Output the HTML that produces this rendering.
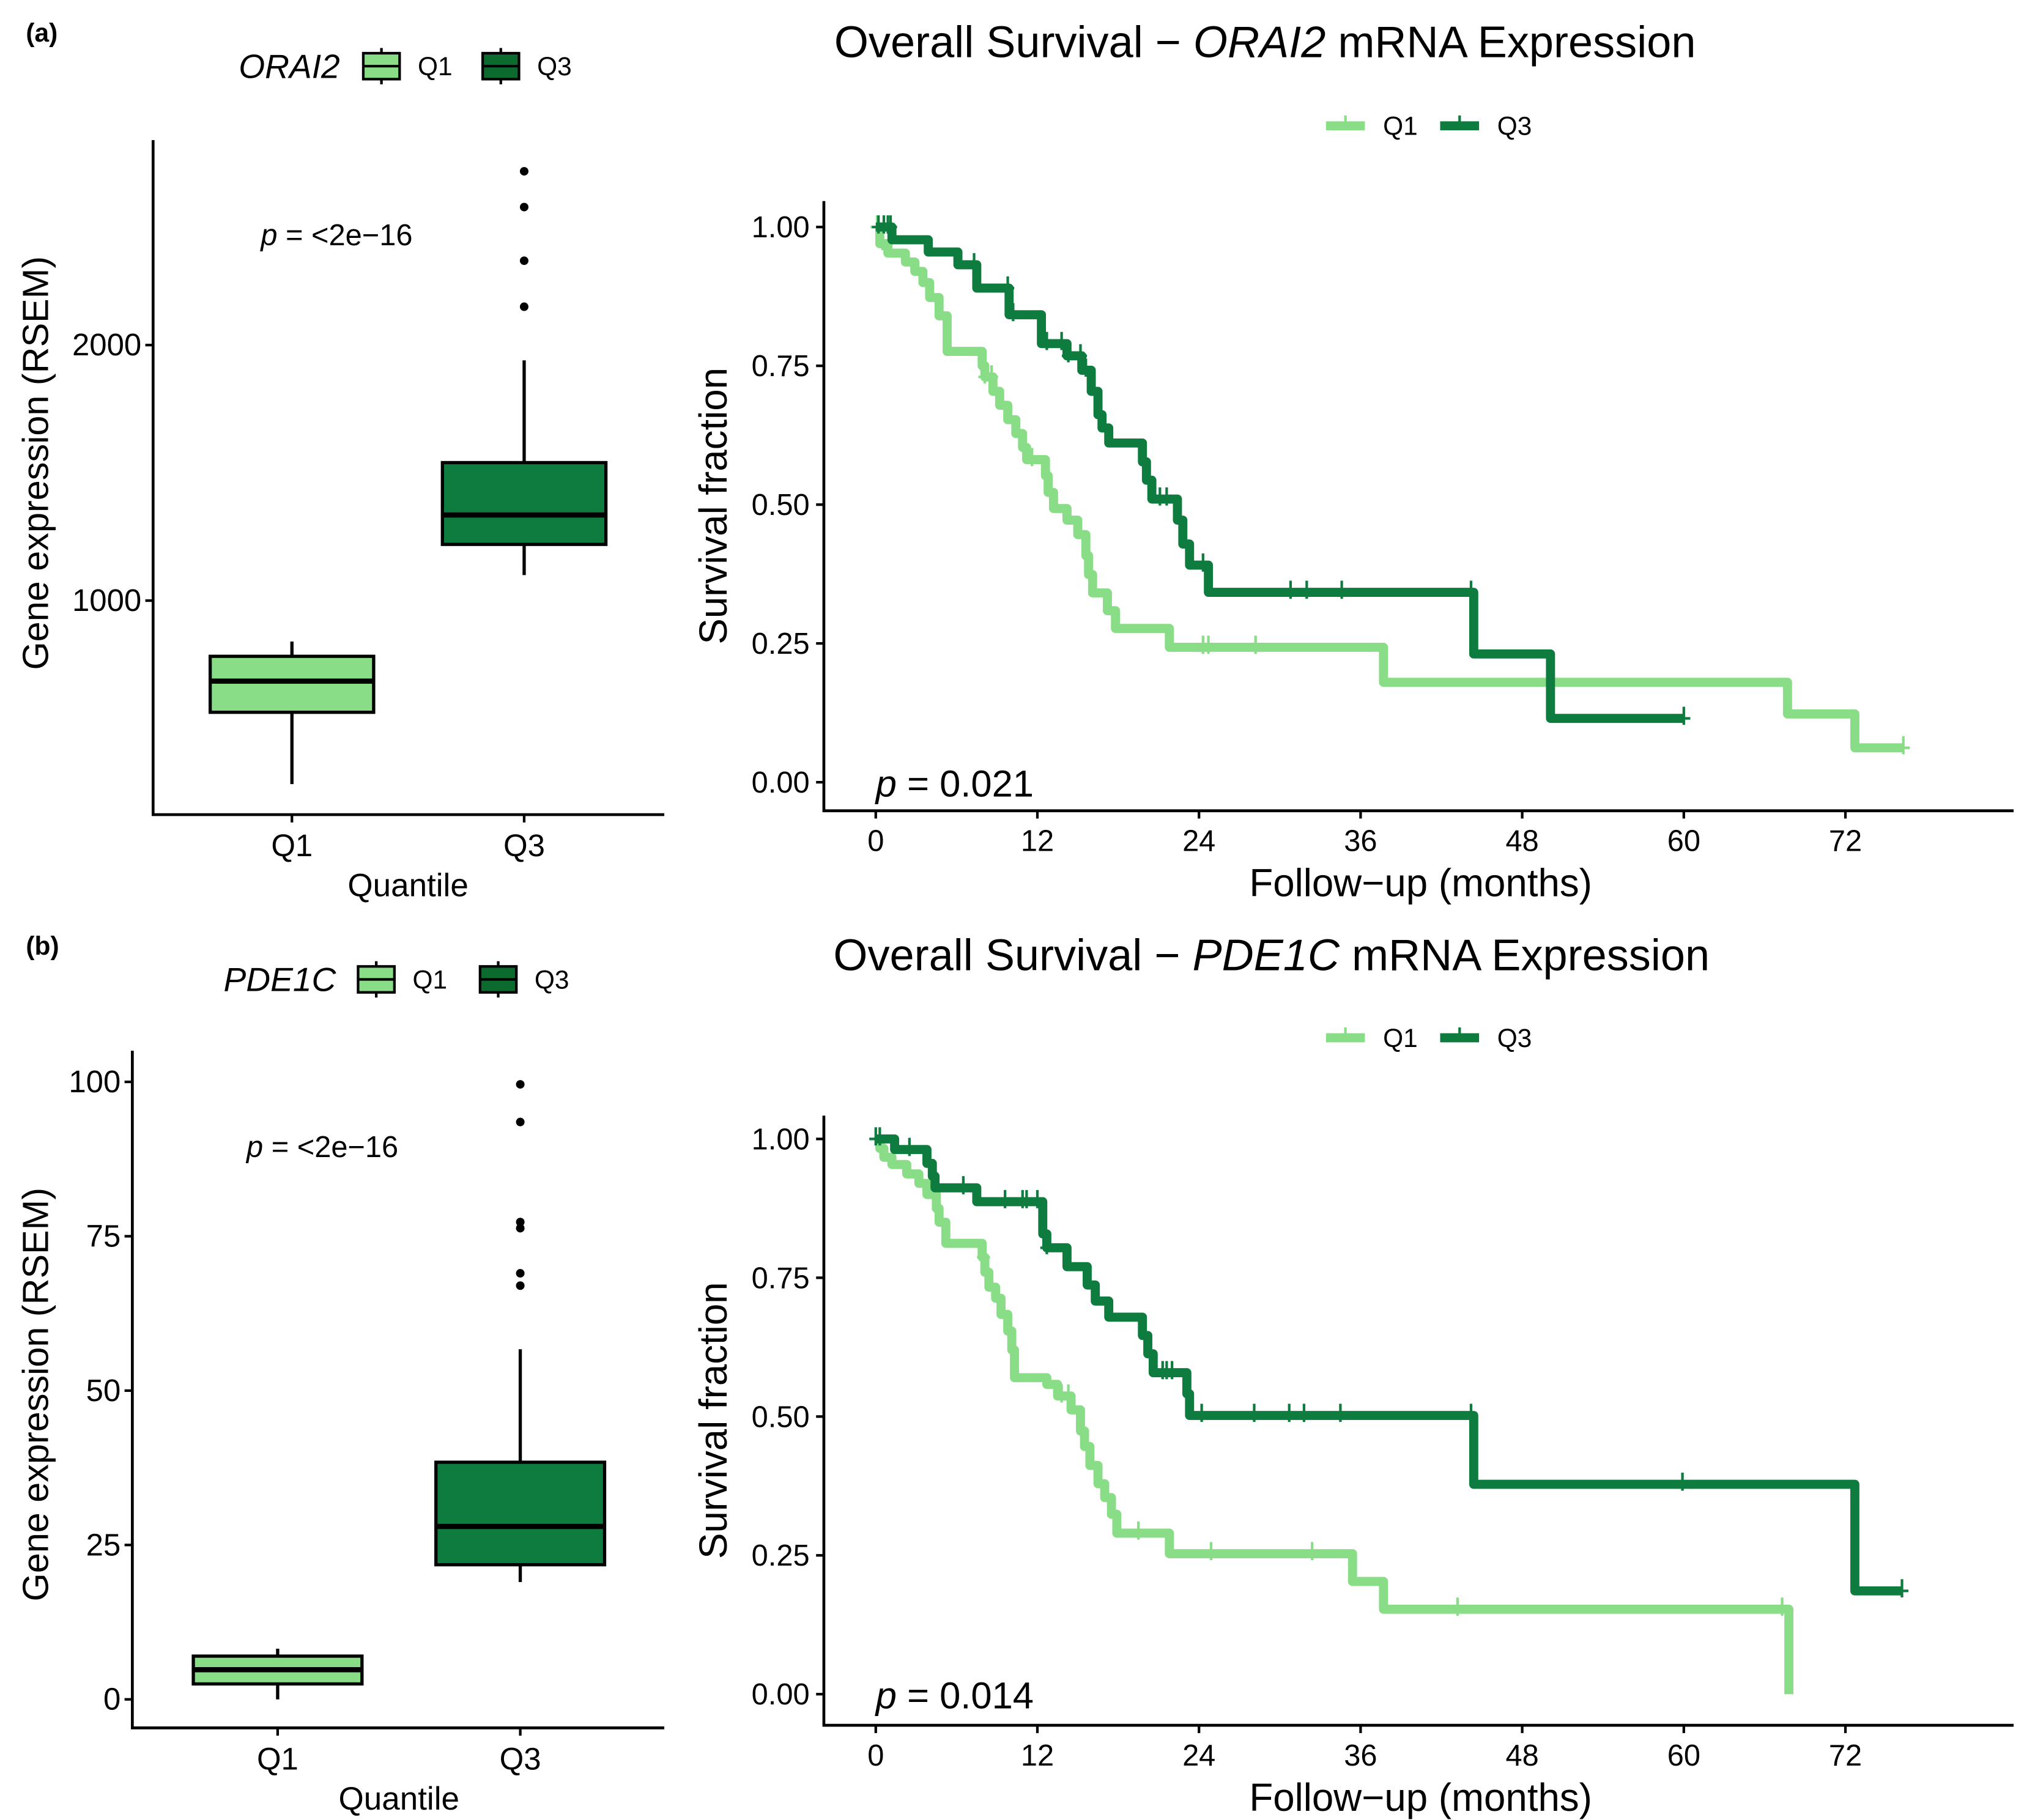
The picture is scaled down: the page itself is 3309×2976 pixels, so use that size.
<!DOCTYPE html>
<html><head><meta charset="utf-8">
<style>
html,body{margin:0;padding:0;background:#fff;}
svg{display:block;font-family:"Liberation Sans",Arial,sans-serif;}
</style></head>
<body>
<svg id="fig" width="3309" height="2976" viewBox="0 0 1560 1403" xmlns="http://www.w3.org/2000/svg">
<rect width="1560" height="1403" fill="#fff"/>
<text x="20" y="32" font-size="20" font-weight="bold">(a)</text>
<text x="20" y="736" font-size="20" font-weight="bold">(b)</text>
<text x="975" y="44" font-size="34" text-anchor="middle">Overall Survival − <tspan font-style="italic">ORAI2</tspan> mRNA Expression</text>
<text x="980" y="748" font-size="34" text-anchor="middle">Overall Survival − <tspan font-style="italic">PDE1C</tspan> mRNA Expression</text>
<g id="layer"></g>
</svg>
<script>
// ---------- data ----------
const boxCats = ["Q1","Q3"];
const boxA_stats = [[282,563,685,782,840],[1100,1220,1335,1540,1940]];
const boxA_out = [[],[2150,2330,2540,2680]];
const boxA_ticks = [1000,2000];
const boxB_stats = [[0,2.5,4.8,7,8.2],[19,21.8,28,38.4,56.7]];
const boxB_out = [[],[67,69,76.3,77.3,93.5,99.6]];
const boxB_ticks = [0,25,50,75,100];

const kmTicksX = [0,12,24,36,48,60,72];
const kmTicksY = [0,0.25,0.5,0.75,1];
const kmTickLabelsY = ["0.00","0.25","0.50","0.75","1.00"];

const aQ1_t = [0.3,0.9,2.2,2.9,3.5,4.0,4.7,5.3,7.9,8.1,8.7,9.2,9.8,10.4,10.9,11.2,12.6,12.8,13.2,14.2,15.0,15.6,15.8,16.1,17.2,17.8,21.8,37.7,67.7,72.7];
const aQ1_s = [0.97,0.953,0.937,0.92,0.9,0.873,0.84,0.776,0.75,0.73,0.704,0.679,0.653,0.628,0.603,0.581,0.552,0.522,0.493,0.472,0.446,0.408,0.374,0.341,0.309,0.277,0.243,0.18,0.123,0.062];
const aQ1_end = 76.3;
const aQ1_cens = [0.1,0.5,8.1,8.6,11.6,24.3,24.7,28.2,76.3];
const aQ3_t = [1.2,3.9,6.1,7.5,9.9,12.3,14.2,15.3,16.0,16.5,16.8,17.3,19.8,20.1,20.5,22.4,22.8,23.3,24.7,44.4,50.1];
const aQ3_s = [0.977,0.955,0.932,0.89,0.842,0.79,0.768,0.742,0.704,0.662,0.638,0.611,0.577,0.544,0.51,0.472,0.429,0.391,0.342,0.231,0.115];
const aQ3_end = 60;
const aQ3_cens = [0.2,0.6,0.9,1.1,7.3,9.8,10.2,12.7,13.8,14.3,15.2,15.6,21.1,21.6,24.3,30.8,32,34.6,44.2,60];

const bQ1_t = [0.3,0.6,1.2,2.3,3.2,3.8,4.5,4.7,5.2,7.9,8.1,8.4,8.9,9.3,9.8,10.1,10.3,12.7,13.5,14.5,15.2,15.5,15.9,16.5,17.0,17.5,17.9,21.8,35.4,37.7,67.8];
const bQ1_s = [0.983,0.967,0.954,0.937,0.92,0.9,0.875,0.85,0.812,0.787,0.76,0.733,0.713,0.684,0.654,0.62,0.57,0.558,0.537,0.512,0.474,0.446,0.412,0.379,0.354,0.324,0.29,0.253,0.203,0.153,0];
const bQ1_end = 67.8;
const bQ1_cens = [8.0,13.8,14.3,19.5,24.9,32.4,43.2,67.3];
const bQ3_t = [1.4,3.8,4.2,4.4,7.5,12.4,12.7,14.2,15.7,16.3,17.3,19.8,20.2,20.6,23.1,23.3,44.4,72.7];
const bQ3_s = [0.981,0.956,0.933,0.912,0.887,0.829,0.804,0.77,0.737,0.708,0.679,0.646,0.613,0.579,0.541,0.502,0.378,0.186];
const bQ3_end = 76.2;
const bQ3_cens = [0,0.3,2.5,6.5,9.6,10.9,11.2,12.0,12.7,21.3,21.6,22.0,24.2,28.1,30.7,31.8,34.5,44.2,59.9,76.2];

const LIGHT = "#89dd86", DARK = "#0e7c3f";
const NS = "http://www.w3.org/2000/svg";
const layer = document.getElementById("layer");
function mk(tag, attrs, parent, text){
  const e = document.createElementNS(NS, tag);
  for (const k in attrs) e.setAttribute(k, attrs[k]);
  if (text !== undefined) e.textContent = text;
  (parent || layer).appendChild(e);
  return e;
}

// ---------- boxplot ----------
function boxplot(cfg){
  const g = mk("g", {});
  
  
  const y = v => cfg.yPix0 + (v - cfg.yV0) * (cfg.yPix1 - cfg.yPix0) / (cfg.yV1 - cfg.yV0);
  const ax = mk("path", {d:`M${cfg.axX},${cfg.top}V${cfg.bottom}H${cfg.right}`, stroke:"#000", "stroke-width":2.2, fill:"none"}, g);
  
  
  cfg.ticks.forEach(t => {
    mk("line", {x1:cfg.axX-6, x2:cfg.axX, y1:y(t), y2:y(t), stroke:"#000", "stroke-width":2}, g);
    const tl = mk("text", {x:cfg.axX-9, y:y(t)+8, "font-size":24, "text-anchor":"end"}, g, String(t));
    
    
  });
  boxCats.forEach((c, i) => {
    const cx = cfg.xs[i], s = cfg.stats[i], hw = cfg.hw;
    mk("line", {x1:cx, x2:cx, y1:cfg.bottom, y2:cfg.bottom+6, stroke:"#000", "stroke-width":2}, g);
    const xl = mk("text", {x:cx, y:cfg.bottom+32, "font-size":24, "text-anchor":"middle"}, g, c);
    
    
    mk("line", {x1:cx, x2:cx, y1:y(s[0]), y2:y(s[4]), stroke:"#000", "stroke-width":2.5}, g);
    const b = mk("rect", {x:cx-hw, y:y(s[3]), width:2*hw, height:y(s[1])-y(s[3]), fill:i?DARK:LIGHT, stroke:"#000", "stroke-width":2.5}, g);
    
    
    mk("line", {x1:cx-hw, x2:cx+hw, y1:y(s[2]), y2:y(s[2]), stroke:"#000", "stroke-width":4}, g);
    cfg.out[i].forEach(o => {
      const d = mk("circle", {cx:cx, cy:y(o), r:3.3, fill:"#000"}, g);
      
      
    });
  });
  const xt = mk("text", {x:(cfg.xs[0]+cfg.xs[1])/2, y:cfg.bottom+63, "font-size":25, "text-anchor":"middle"}, g, "Quantile");
  
  
  const yt = mk("text", {x:0, y:0, "font-size":28, "text-anchor":"middle", transform:`translate(37,${cfg.ytitleY}) rotate(-90)`}, g, "Gene expression (RSEM)");
  
  
  const p = mk("text", {x:cfg.pX, y:cfg.pY, "font-size":23}, g);
  
  
  mk("tspan", {"font-style":"italic"}, p, "p");
  mk("tspan", {}, p, " = <2e−16");
  const lg = mk("g", {}, g);
  
  
  mk("text", {x:cfg.legX, y:cfg.legY+9, "font-size":26, "font-style":"italic", "text-anchor":"end"}, lg, cfg.gene);
  cfg.legKeys.forEach((kx, i) => {
    const ke = mk("g", {}, lg);
    
    
    mk("line", {x1:kx+14, x2:kx+14, y1:cfg.legY-14, y2:cfg.legY+14, stroke:"#000", "stroke-width":2}, ke);
    mk("rect", {x:kx, y:cfg.legY-10, width:28, height:20, fill:i?"#0b6b2f":LIGHT, stroke:"#000", "stroke-width":2}, ke);
    mk("line", {x1:kx, x2:kx+28, y1:cfg.legY, y2:cfg.legY, stroke:"#000", "stroke-width":2}, ke);
    mk("text", {x:kx+42, y:cfg.legY+7, "font-size":20}, ke, boxCats[i]);
  });
}
boxplot({name:"boxplot-orai2", gene:"ORAI2", axX:118, top:108, bottom:628, right:512, xs:[225,404], hw:63,
  yV0:1000, yPix0:463, yV1:2000, yPix1:266, ticks:boxA_ticks, stats:boxA_stats, out:boxA_out,
  ytitleY:357, pX:201, pY:189, legX:262, legY:51, legKeys:[280,372]});
boxplot({name:"boxplot-pde1c", gene:"PDE1C", axX:102, top:810, bottom:1332, right:512, xs:[214,401], hw:65,
  yV0:0, yPix0:1310, yV1:100, yPix1:834, ticks:boxB_ticks, stats:boxB_stats, out:boxB_out,
  ytitleY:1075, pX:190, pY:892, legX:259, legY:755, legKeys:[276,370]});

// ---------- KM ----------
function km(cfg){
  const g = mk("g", {});
  
  
  const x = t => cfg.x0 + t * cfg.pxPerMonth;
  const y = s => cfg.y0 + (cfg.y1 - cfg.y0) * s;
  const ax = mk("path", {d:`M${cfg.axX},${cfg.top}V${cfg.bottom}H1552`, stroke:"#000", "stroke-width":2.2, fill:"none"}, g);
  
  
  kmTicksX.forEach(t => {
    mk("line", {x1:x(t), x2:x(t), y1:cfg.bottom, y2:cfg.bottom+6, stroke:"#000", "stroke-width":2}, g);
    const tl = mk("text", {x:x(t), y:cfg.bottom+31, "font-size":23, "text-anchor":"middle"}, g, String(t));
    
    
  });
  kmTicksY.forEach((s, i) => {
    mk("line", {x1:cfg.axX-6, x2:cfg.axX, y1:y(s), y2:y(s), stroke:"#000", "stroke-width":2}, g);
    const tl = mk("text", {x:cfg.axX-11, y:y(s)+8, "font-size":23, "text-anchor":"end"}, g, kmTickLabelsY[i]);
    
    
  });
  const xt = mk("text", {x:1095, y:cfg.bottom+66, "font-size":30, "text-anchor":"middle"}, g, "Follow−up (months)");
  
  
  const yt = mk("text", {x:0, y:0, "font-size":30, "text-anchor":"middle", transform:`translate(560,${(cfg.top+cfg.bottom)/2}) rotate(-90)`}, g, "Survival fraction");
  
  
  const p = mk("text", {x:cfg.x0, y:y(0)+11, "font-size":29}, g);
  
  
  mk("tspan", {"font-style":"italic"}, p, "p");
  mk("tspan", {}, p, " = " + cfg.pval);
  cfg.series.forEach(se => {
    let d = `M${x(0)},${y(1)}`;
    se.t.forEach((t, i) => { d += `H${x(t)}V${y(se.s[i])}`; });
    d += `H${x(se.end)}`;
    const path = mk("path", {d:d, fill:"none", stroke:se.color, "stroke-width":7, "stroke-linejoin":"round"}, g);
    
    
    const sAt = tc => { let v = 1; se.t.forEach((t, i) => { if (t <= tc) v = se.s[i]; }); return v; };
    se.cens.forEach(tc => {
      const c = mk("path", {d:`M${x(tc)-5},${y(sAt(tc))}h10M${x(tc)},${y(sAt(tc))-9}v14`, stroke:se.color, "stroke-width":2}, g);
      
      
    });
  });
  const lg = mk("g", {}, g);
  
  
  [[1022, LIGHT, "Q1"], [1110, DARK, "Q3"]].forEach(([lx, col, lab]) => {
    const e = mk("g", {}, lg);
    
    
    mk("line", {x1:lx, x2:lx+30, y1:cfg.legY, y2:cfg.legY, stroke:col, "stroke-width":7}, e);
    mk("line", {x1:lx+15, x2:lx+15, y1:cfg.legY-8, y2:cfg.legY+2, stroke:col, "stroke-width":2}, e);
    mk("text", {x:lx+44, y:cfg.legY+7, "font-size":20}, e, lab);
  });
}
km({name:"km-orai2", axX:635, top:155, bottom:625, x0:675, pxPerMonth:10.38, y0:603, y1:175, pval:"0.021", legY:97,
  series:[{label:"Q1", color:LIGHT, t:aQ1_t, s:aQ1_s, end:aQ1_end, cens:aQ1_cens},
          {label:"Q3", color:DARK, t:aQ3_t, s:aQ3_s, end:aQ3_end, cens:aQ3_cens}]});
km({name:"km-pde1c", axX:635, top:860, bottom:1330, x0:675, pxPerMonth:10.38, y0:1306, y1:878, pval:"0.014", legY:800,
  series:[{label:"Q1", color:LIGHT, t:bQ1_t, s:bQ1_s, end:bQ1_end, cens:bQ1_cens},
          {label:"Q3", color:DARK, t:bQ3_t, s:bQ3_s, end:bQ3_end, cens:bQ3_cens}]});
</script>
</body></html>
